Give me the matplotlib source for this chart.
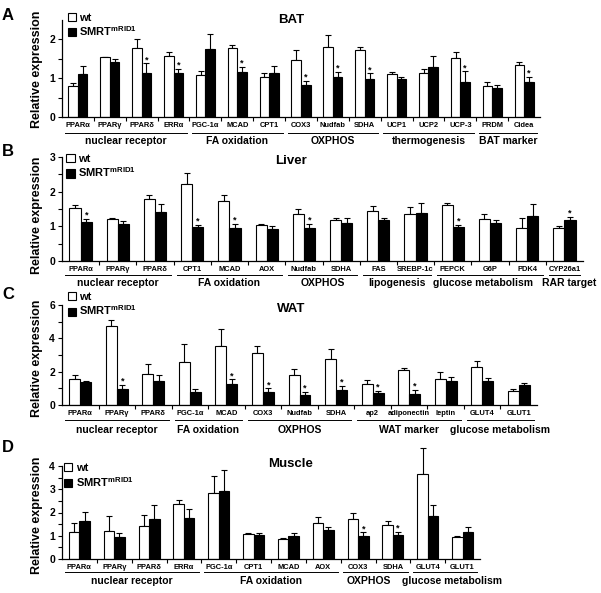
import matplotlib
matplotlib.use("Agg")
import matplotlib.pyplot as plt
import numpy as np
from matplotlib.transforms import offset_copy

plt.rcParams["font.family"] = ["Liberation Sans", "DejaVu Sans"]
plt.rcParams["font.weight"] = "bold"
plt.rcParams["mathtext.fontset"] = "custom"
plt.rcParams["mathtext.rm"] = "Liberation Sans:bold"
plt.rcParams["mathtext.bf"] = "Liberation Sans:bold"
plt.rcParams["mathtext.default"] = "rm"

# ---------------------------------------------------------------------------
# Data
# ---------------------------------------------------------------------------
# A: BAT
genes_a = ["PPARα", "PPARγ", "PPARδ", "ERRα", "PGC-1α", "MCAD", "CPT1", "COX3",
           "Nudfab", "SDHA", "UCP1", "UCP2", "UCP-3", "PRDM", "Cidea"]
wt_a = [0.79, 1.53, 1.78, 1.57, 1.08, 1.77, 1.03, 1.45, 1.80, 1.71, 1.09, 1.12, 1.52, 0.80, 1.34]
wt_a_sem = [0.09, 0.02, 0.22, 0.09, 0.11, 0.08, 0.11, 0.28, 0.30, 0.09, 0.07, 0.10, 0.15, 0.09, 0.07]
ko_a = [1.10, 1.40, 1.14, 1.12, 1.74, 1.16, 1.12, 0.82, 1.03, 0.97, 0.97, 1.28, 0.90, 0.74, 0.91]
ko_a_sem = [0.21, 0.09, 0.24, 0.11, 0.39, 0.13, 0.20, 0.11, 0.12, 0.15, 0.05, 0.28, 0.27, 0.07, 0.12]
star_a = [2, 3, 5, 7, 8, 9, 12, 14]
# (label, first gene, last gene, text shift in gene widths)
groups_a = [("nuclear receptor", 0, 3, 0), ("FA oxidation", 4, 6, 0), ("OXPHOS", 7, 9, 0),
            ("thermogenesis", 10, 12, 0), ("BAT marker", 13, 14, 0)]

# B: Liver
genes_b = ["PPARα", "PPARγ", "PPARδ", "CPT1", "MCAD", "AOX", "Nudfab", "SDHA",
           "FAS", "SREBP-1c", "PEPCK", "G6P", "PDK4", "CYP26a1"]
wt_b = [1.53, 1.20, 1.78, 2.21, 1.73, 1.03, 1.36, 1.18, 1.44, 1.35, 1.61, 1.20, 0.94, 0.94]
wt_b_sem = [0.09, 0.05, 0.11, 0.33, 0.16, 0.03, 0.14, 0.07, 0.14, 0.21, 0.06, 0.15, 0.31, 0.07]
ko_b = [1.12, 1.06, 1.40, 0.98, 0.96, 0.93, 0.96, 1.11, 1.17, 1.39, 0.98, 1.09, 1.31, 1.17]
ko_b_sem = [0.10, 0.08, 0.23, 0.07, 0.12, 0.07, 0.12, 0.12, 0.06, 0.27, 0.06, 0.09, 0.32, 0.10]
star_b = [0, 3, 4, 6, 10, 13]
groups_b = [("nuclear receptor", 0, 2, 0), ("FA oxidation", 3, 5, 0), ("OXPHOS", 6, 7, 0),
            ("lipogenesis", 8, 9, 0), ("glucose metabolism", 10, 12, -0.2),
            ("RAR target", 13, 13, 0.12)]

# C: WAT
genes_c = ["PPARα", "PPARγ", "PPARδ", "PGC-1α", "MCAD", "COX3", "Nudfab", "SDHA",
           "ap2", "adiponectin", "leptin", "GLUT4", "GLUT1"]
wt_c = [1.56, 4.76, 1.84, 2.60, 3.54, 3.14, 1.80, 2.78, 1.24, 2.08, 1.58, 2.30, 0.84]
wt_c_sem = [0.24, 0.34, 0.64, 1.06, 1.02, 0.42, 0.36, 0.60, 0.24, 0.16, 0.40, 0.34, 0.10]
ko_c = [1.36, 0.96, 1.46, 0.76, 1.24, 0.76, 0.58, 0.90, 0.74, 0.64, 1.44, 1.44, 1.18]
ko_c_sem = [0.10, 0.24, 0.34, 0.20, 0.30, 0.24, 0.20, 0.24, 0.10, 0.26, 0.26, 0.20, 0.16]
star_c = [1, 4, 5, 6, 7, 8, 9]
groups_c = [("nuclear receptor", 0, 2, 0), ("FA oxidation", 3, 4, 0), ("OXPHOS", 5, 7, 0),
            ("WAT marker", 8, 10, 0), ("glucose metabolism", 11, 12, 0)]

# D: Muscle
genes_d = ["PPARα", "PPARγ", "PPARδ", "ERRα", "PGC-1α", "CPT1", "MCAD", "AOX",
           "COX3", "SDHA", "GLUT4", "GLUT1"]
wt_d = [1.17, 1.21, 1.41, 2.36, 2.86, 1.07, 0.84, 1.54, 1.70, 1.46, 3.64, 0.93]
wt_d_sem = [0.36, 0.65, 0.50, 0.17, 0.70, 0.04, 0.07, 0.27, 0.26, 0.18, 1.12, 0.07]
ko_d = [1.63, 0.96, 1.74, 1.77, 2.93, 1.03, 1.00, 1.24, 1.00, 1.03, 1.86, 1.17]
ko_d_sem = [0.40, 0.17, 0.60, 0.40, 0.91, 0.10, 0.13, 0.12, 0.14, 0.14, 0.45, 0.19]
star_d = [8, 9]
groups_d = [("nuclear receptor", 0, 3, 0), ("FA oxidation", 4, 7, 0), ("OXPHOS", 8, 9, -0.2),
            ("glucose metabolism", 10, 11, 0.2)]

W, H = 601, 593
fig = plt.figure(figsize=(W / 100, H / 100), dpi=100)


def add_axes_px(left, right, bottom, top):
    return fig.add_axes([left / W, 1 - bottom / H, (right - left) / W, (bottom - top) / H])


def draw_panel(ax, genes, wt, wt_sem, ko, ko_sem, stars, groups, ymax, ystep,
               line_dy, text_dy, legend_xy):
    n = len(genes)
    x = np.arange(n) + 0.5
    bw = 0.3
    zeros = np.zeros(n)
    ax.bar(x - bw / 2, wt, bw, color="white", edgecolor="black", linewidth=0.8,
           label="wt", zorder=2)
    ax.bar(x + bw / 2, ko, bw, color="black", edgecolor="black", linewidth=0.8,
           label=r"SMRT$^{mRID1}$", zorder=2)
    for xs, vals, sem in ((x - bw / 2, wt, wt_sem), (x + bw / 2, ko, ko_sem)):
        ax.errorbar(xs, vals, yerr=[zeros, sem], fmt="none", ecolor="black",
                    elinewidth=0.8, capsize=2.2, capthick=0.8, zorder=1,
                    clip_on=False)
    for i in stars:
        ax.annotate("*", xy=(x[i] + bw / 2, ko[i] + ko_sem[i]), xytext=(0, 0.8),
                    textcoords="offset points", ha="center", va="baseline",
                    fontsize=6.5, fontweight="bold")

    ax.set_xlim(0, n)
    ax.set_ylim(0, ymax)
    ax.spines["top"].set_visible(False)
    ax.spines["right"].set_visible(False)
    for s in ("left", "bottom"):
        ax.spines[s].set_linewidth(0.9)

    ax.set_xticks(x)
    ax.set_xticklabels(genes, fontsize=5.4, fontweight="bold")
    ax.set_xticks(np.arange(1, n), minor=True)
    ax.tick_params(axis="x", which="major", length=0, pad=3.5)
    ax.tick_params(axis="x", which="minor", length=3, width=0.8)

    ax.set_yticks(np.arange(0, ymax + 0.01, ystep))
    ax.set_yticks(np.arange(ystep / 2, ymax, ystep), minor=True)
    ax.tick_params(axis="y", which="both", length=3, width=0.8, pad=2, labelsize=7.5)
    for lab in ax.get_yticklabels():
        lab.set_fontweight("bold")

    line_tr = offset_copy(ax.get_xaxis_transform(), fig=fig, y=-line_dy, units="dots")
    text_tr = offset_copy(ax.get_xaxis_transform(), fig=fig, y=-text_dy, units="dots")
    for name, g0, g1, shift in groups:
        ax.plot([g0 + 0.08, g1 + 0.92], [0, 0], color="black", lw=0.7,
                transform=line_tr, clip_on=False)
        ax.text((g0 + g1 + 1) / 2 + shift, 0, name, transform=text_tr, ha="center",
                va="center", fontsize=7.5, fontweight="bold")

    ax.legend(loc="upper left", bbox_to_anchor=legend_xy, frameon=False,
              borderaxespad=0, borderpad=0, handlelength=0.75, handleheight=0.75,
              handletextpad=0.3, labelspacing=0.15,
              prop={"weight": "bold", "size": 8})


ax_a = add_axes_px(62, 540, 117, 19.5)
draw_panel(ax_a, genes_a, wt_a, wt_a_sem, ko_a, ko_a_sem, star_a, groups_a,
           2.5, 1, 16, 24, (0.012, 1.07))
ax_b = add_axes_px(62, 583, 261, 157)
draw_panel(ax_b, genes_b, wt_b, wt_b_sem, ko_b, ko_b_sem, star_b, groups_b,
           3, 1, 14, 22, (0.008, 1.03))
ax_c = add_axes_px(62, 537, 405, 305)
draw_panel(ax_c, genes_c, wt_c, wt_c_sem, ko_c, ko_c_sem, star_c, groups_c,
           6, 2, 15, 25, (0.012, 1.13))
ax_d = add_axes_px(62, 480, 559, 466)
draw_panel(ax_d, genes_d, wt_d, wt_d_sem, ko_d, ko_d_sem, star_d, groups_d,
           4, 1, 13, 22, (0.005, 1.03))

# titles, panel letters, y labels
for title, ty in (("BAT", 20), ("Liver", 161), ("WAT", 309), ("Muscle", 464)):
    fig.text(291 / W, 1 - ty / H, title, ha="center", va="center",
             fontsize=9.5, fontweight="bold")
for letter, ly in (("A", 15), ("B", 152), ("C", 295), ("D", 447)):
    fig.text(8 / W, 1 - ly / H, letter, ha="center", va="center",
             fontsize=12, fontweight="bold")
for yl in (69, 215, 358, 515):
    fig.text(37 / W, 1 - yl / H, "Relative expression", rotation=90,
             ha="center", va="center", fontsize=9, fontweight="bold")

fig.savefig("out.png", dpi=100)
